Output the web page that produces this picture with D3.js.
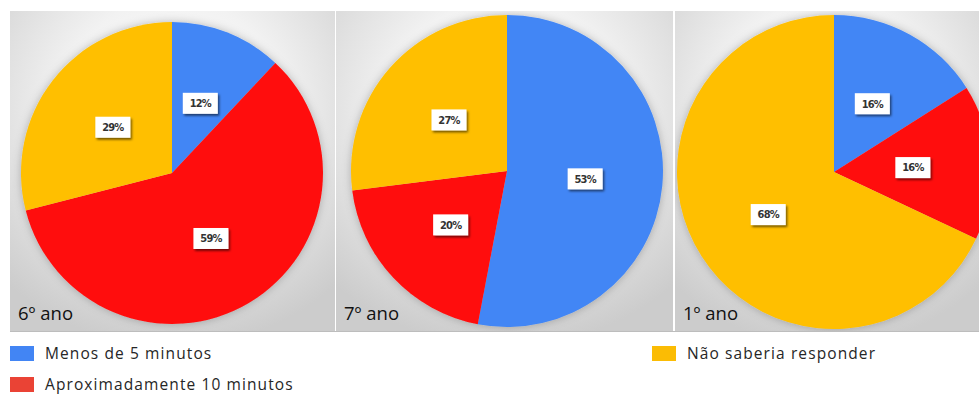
<html>
  <head>
    <script src="https://d3js.org/d3.v7.min.js"></script>
    <style>
      body { margin: 0; background: #fff; }
      svg { display: block; }
    </style>
  </head>

  <body>
    <svg id="vis"></svg>
  </body>

  <script>
    // Data
    var categories = ["Menos de 5 minutos", "Aproximadamente 10 minutos", "Não saberia responder"]
    var groups = ["6º ano", "7º ano", "1º ano"]
    var values6 = [12, 59, 29]
    var values7 = [53, 20, 27]
    var values1 = [16, 16, 68]
    var series = [values6, values7, values1]

    var pieColors = ["#4286f5", "#ff0d0d", "#ffbf00"]
    var legendColors = ["#4285f4", "#ea4335", "#fbbc04"]

    var width = 979, height = 395

    // panel boxes and pie placement
    var panels = [
      {x0: 10,  x1: 335, cx: 172, cy: 173, r: 151},
      {x0: 336, x1: 673, cx: 507, cy: 171, r: 156},
      {x0: 675, x1: 979, cx: 834, cy: 172, r: 157}
    ]
    var panelTop = 11, panelBottom = 331

    var svg = d3.select('#vis')
      .attr("width", width)
      .attr("height", height)

    var defs = svg.append("defs")

    var grad = defs.append("radialGradient")
      .attr("id", "bg")
      .attr("cx", "50%").attr("cy", "30%").attr("r", "75%")
    grad.append("stop").attr("offset", "0%").attr("stop-color", "#ffffff")
    grad.append("stop").attr("offset", "45%").attr("stop-color", "#f2f2f2")
    grad.append("stop").attr("offset", "100%").attr("stop-color", "#cccccc")

    var sh = defs.append("filter").attr("id", "lblShadow")
      .attr("x", "-30%").attr("y", "-30%").attr("width", "170%").attr("height", "180%")
    sh.append("feDropShadow").attr("dx", 1.5).attr("dy", 2).attr("stdDeviation", 1.3)
      .attr("flood-color", "#000").attr("flood-opacity", 0.55)

    var pieSh = defs.append("filter").attr("id", "pieShadow")
      .attr("x", "-10%").attr("y", "-10%").attr("width", "120%").attr("height", "120%")
    pieSh.append("feDropShadow").attr("dx", 0).attr("dy", 0).attr("stdDeviation", 4)
      .attr("flood-color", "#000").attr("flood-opacity", 0.25)

    var pie = d3.pie().sort(null).value(function(d){ return d })

    panels.forEach(function(p, i) {
      defs.append("clipPath").attr("id", "clip" + i)
        .append("rect")
        .attr("x", p.x0).attr("y", panelTop)
        .attr("width", p.x1 - p.x0).attr("height", panelBottom - panelTop)

      var g = svg.append("g").attr("clip-path", "url(#clip" + i + ")")

      g.append("rect")
        .attr("x", p.x0).attr("y", panelTop)
        .attr("width", p.x1 - p.x0).attr("height", panelBottom - panelTop)
        .attr("fill", "url(#bg)")

      var arc = d3.arc().innerRadius(0).outerRadius(p.r)
      var arcs = pie(series[i])

      var pg = g.append("g")
        .attr("transform", "translate(" + p.cx + "," + p.cy + ")")

      pg.append("g").attr("filter", "url(#pieShadow)")
        .selectAll("path")
        .data(arcs)
        .enter()
        .append("path")
        .attr("d", arc)
        .attr("fill", function(d, j){ return pieColors[j] })

      // data labels
      var lbl = pg.selectAll("g.lbl")
        .data(arcs)
        .enter()
        .append("g")
        .attr("class", "lbl")
        .attr("transform", function(d){ return "translate(" + arc.centroid(d) + ")" })

      lbl.append("rect")
        .attr("x", -17).attr("y", -10)
        .attr("width", 35).attr("height", 21)
        .attr("fill", "#fff")
        .attr("filter", "url(#lblShadow)")

      lbl.append("text")
        .attr("text-anchor", "middle")
        .attr("x", 0.5)
        .attr("dy", "0.4em")
        .style("font-family", "'DejaVu Sans Condensed', 'Open Sans', sans-serif")
        .style("font-size", "11px")
        .style("font-weight", "bold")
        .style("letter-spacing", "-0.8px")
        .attr("fill", "#333")
        .text(function(d){ return d.data + "%" })

      // panel title
      g.append("text")
        .attr("x", p.x0 + 8)
        .attr("y", panelBottom - 11)
        .style("font-family", "'Open Sans', sans-serif")
        .style("font-size", "18.5px")
        .attr("fill", "#111")
        .text(groups[i])
    })

    // thin edge under the panels
    svg.append("line")
      .attr("x1", 10).attr("x2", width)
      .attr("y1", panelBottom + 0.5).attr("y2", panelBottom + 0.5)
      .attr("stroke", "#bdbdbd")

    // legend
    var legendPos = [
      {x: 10, y: 346},
      {x: 10, y: 377},
      {x: 652, y: 346}
    ]

    var leg = svg.selectAll("g.leg")
      .data(categories)
      .enter()
      .append("g")
      .attr("class", "leg")
      .attr("transform", function(d, i){ return "translate(" + legendPos[i].x + "," + legendPos[i].y + ")" })

    leg.append("rect")
      .attr("width", 24).attr("height", 15)
      .attr("fill", function(d, i){ return legendColors[i] })

    leg.append("text")
      .attr("x", 35)
      .attr("y", 13)
      .style("font-family", "'Open Sans', sans-serif")
      .style("font-size", "15.5px")
      .style("letter-spacing", "1.1px")
      .attr("fill", "#262626")
      .text(function(d){ return d })
  </script>
</html>
